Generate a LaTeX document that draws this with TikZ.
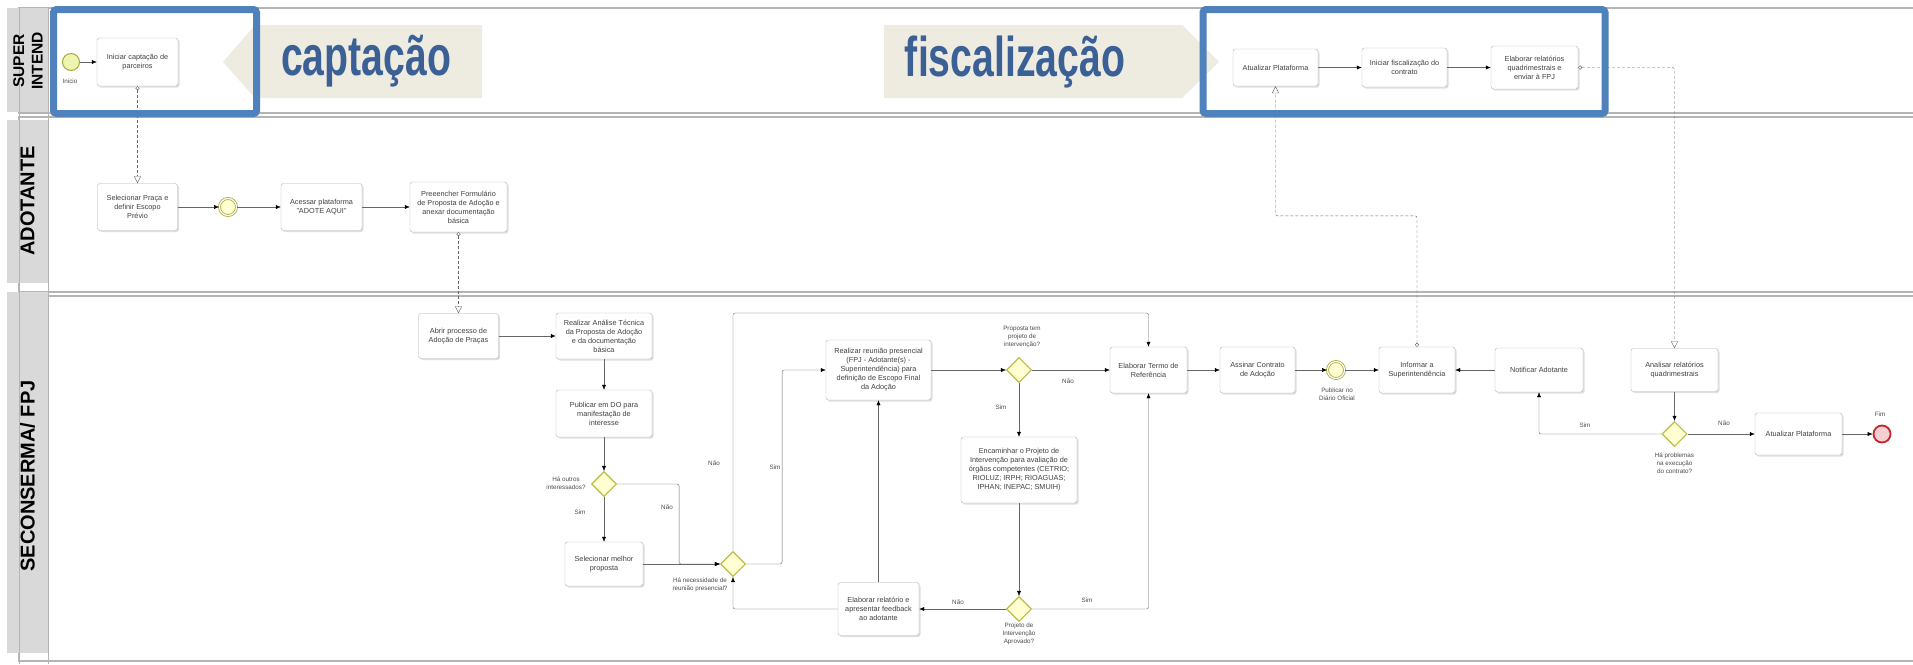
\documentclass[tikz,border=0pt]{standalone}
\usepackage{fontspec}
\setmainfont{Liberation Sans}
\newfontfamily\bannerfont[FakeStretch=0.7]{Liberation Sans}
\usetikzlibrary{arrows.meta,shapes.geometric,shadows,positioning}
\definecolor{lanegray}{HTML}{D9D9D9}
\definecolor{laneline}{HTML}{B4B4B4}
\definecolor{frameblue}{HTML}{4F81BD}
\definecolor{bannerbg}{HTML}{EEEBE0}
\definecolor{bannertext}{HTML}{3A6096}
\definecolor{gatefill}{HTML}{FFFFD2}
\definecolor{gateline}{HTML}{BCBC48}
\definecolor{startfill}{HTML}{EEF5B0}
\definecolor{eventline}{HTML}{A8A838}
\definecolor{endfill}{HTML}{F7CFD2}
\definecolor{endline}{HTML}{C0262D}
\def\taskfont{\fontsize{7.3}{9}\selectfont}
\def\notefont{\fontsize{6.3}{8}\selectfont}

\begin{document}
\begin{tikzpicture}[x=1pt,y=-1pt,>={Latex[length=5pt,width=4pt,color=black]}]
    \tikzstyle{task}=[rectangle,rounded corners=2.5pt,draw=black!30,fill=white,
        drop shadow={shadow xshift=1.5pt,shadow yshift=-1.5pt,opacity=.25},
        align=center,text=black!75,font=\taskfont,inner sep=1pt]
    \tikzstyle{gate}=[diamond,draw=gateline,fill=gatefill,line width=1.1pt,minimum size=25pt,inner sep=0pt]
    \tikzstyle{event}=[circle,draw=eventline,fill=startfill,line width=1pt,minimum size=17pt,inner sep=0pt]
    \tikzstyle{mid event}=[event,line width=.8pt,double=white,double distance=1.2pt,fill=gatefill]
    \tikzstyle{end event}=[event,draw=endline,fill=endfill,line width=1.8pt]
    \tikzstyle{note}=[align=center,text=black!70,font=\notefont,inner sep=0pt]
    \tikzstyle{lane}=[font=\bfseries\fontsize{20}{22}\selectfont,rotate=90]
    \tikzstyle{banner}=[anchor=base,text=bannertext,font=\bannerfont\bfseries\fontsize{56}{56}\selectfont]
    \tikzstyle{flow}=[draw=black!60,rounded corners=2pt,->]
    \tikzstyle{msg}=[draw=black!60,dash pattern=on 3pt off 2pt,rounded corners=2pt,
        {Circle[open,length=4pt,width=4pt,fill=white]}-{Triangle[open,length=7pt,width=7pt,fill=white]}]

    \useasboundingbox (0,0) rectangle (1913,664);
    \fill[white] (0,0) rectangle (1913,664);

    % Lanes
    \foreach \ya/\yb in {8/113,117/292,296/661}
        \draw[laneline,line width=1.5pt] (19,\ya) rectangle (1925,\yb);
    \foreach \ya/\yb in {8/112,120/283,292/653}
        \fill[lanegray] (7,\ya) rectangle (48,\yb);
    \foreach \x in {19,48}
        \draw[laneline,line width=.8pt] (\x,8) -- (\x,664);

    \node[lane,font=\bfseries\fontsize{15.5}{18.5}\selectfont,align=center] (L-1) at (28,61) {SUPER\\INTEND};
    \node[lane] (L-2) at (27.5,201) {ADOTANTE};
    \node[lane] (L-3) at (27.5,476) {SECONSERMA/ FPJ};

    % Phase banners
    \fill[bannerbg] (223,62) -- (255,25) -- (482,25) -- (482,98) -- (255,98) -- cycle;
    \fill[bannerbg] (884,25) -- (1182,25) -- (1219,62) -- (1182,98) -- (884,98) -- cycle;
    \node[banner] (B-1) at (366,75) {captação};
    \node[banner] (B-2) at (1015,76) {fiscalização};

    % Super intendencia
    \node[event] (S-0) at (71,62) {};
    \node[task,minimum width=81pt,minimum height=48pt] (S-1) at (137.5,62) {Iniciar captação de\\parceiros};
    \node[task,minimum width=85pt,minimum height=37pt] (S-2) at (1275.5,67.5) {Atualizar Plataforma};
    \node[task,minimum width=85pt,minimum height=39pt] (S-3) at (1404.5,67.5) {Iniciar fiscalização do\\contrato};
    \node[task,minimum width=87pt,minimum height=43pt] (S-4) at (1534.5,67.5) {Elaborar relatórios\\quadrimestrais e\\enviar à FPJ};

    % Adotante
    \node[task,minimum width=80pt,minimum height=47pt] (A-1) at (137.5,207) {Selecionar Praça e\\definir Escopo\\Prévio};
    \node[mid event] (A-2) at (228,207) {};
    \node[task,minimum width=81pt,minimum height=47pt] (A-3) at (321.5,207) {Acessar plataforma\\"ADOTE AQUI"};
    \node[task,minimum width=97pt,minimum height=50pt] (A-4) at (458.5,207) {Preeencher Formulário\\de Proposta de Adoção e\\anexar documentação\\básica};

    % Seconserma / FPJ
    \node[task,minimum width=80pt,minimum height=45pt] (F-1) at (458.5,336) {Abrir processo de\\Adoção de Praças};
    \node[task,minimum width=96pt,minimum height=46pt] (F-2) at (604,336) {Realizar Análise Técnica\\da Proposta de Adoção\\e da documentação\\básica};
    \node[task,minimum width=96pt,minimum height=47pt] (F-3) at (604,413.5) {Publicar em DO para\\manifestação de\\interesse};
    \node[gate] (G-1) at (604,484) {};
    \node[task,minimum width=78pt,minimum height=44pt] (F-4) at (604,564) {Selecionar melhor\\proposta};
    \node[gate] (G-2) at (733,564) {};
    \node[task,minimum width=105pt,minimum height=60pt] (F-5) at (878.5,370) {Realizar reunião presencial\\(FPJ - Adotante(s) -\\Superintendência) para\\definição de Escopo Final\\da Adoção};
    \node[gate] (G-3) at (1019,370) {};
    \node[task,minimum width=116pt,minimum height=66pt] (F-6) at (1019,470) {Encaminhar o Projeto de\\Intervenção para avaliação de\\órgãos competentes (CETRIO;\\RIOLUZ; IRPH; RIOAGUAS;\\IPHAN; INEPAC; SMUIH)};
    \node[gate] (G-4) at (1019,609) {};
    \node[task,minimum width=81pt,minimum height=53pt] (F-7) at (878.5,609) {Elaborar relatório e\\apresentar feedback\\ao adotante};
    \node[task,minimum width=77pt,minimum height=46pt] (F-8) at (1148.5,370) {Elaborar Termo de\\Referência};
    \node[task,minimum width=75pt,minimum height=46pt] (F-9) at (1257.5,370) {Assinar Contrato\\de Adoção};
    \node[mid event] (E-1) at (1336,370) {};
    \node[task,minimum width=76pt,minimum height=46pt] (F-10) at (1417,370) {Informar a\\Superintendência};
    \node[task,minimum width=88pt,minimum height=44pt] (F-11) at (1539,370) {Notificar Adotante};
    \node[task,minimum width=87pt,minimum height=43pt] (F-12) at (1674.5,370) {Analisar relatórios\\quadrimestrais};
    \node[gate] (G-5) at (1674.5,434) {};
    \node[task,minimum width=87pt,minimum height=42pt] (F-13) at (1798.5,434) {Atualizar Plataforma};
    \node[end event] (E-2) at (1882,434) {};

    % Annotate events and gateways
    \node[note] (N-0) at (70,81) {Inicio};
    \node[note] (N-1) at (566,483) {Há outros\\interessados?};
    \node[note] (N-2) at (700,585) {Há necessidade de\\reunião presencial?};
    \node[note] (N-3) at (1022,337) {Proposta tem\\projeto de\\intervenção?};
    \node[note] (N-4) at (1019,634) {Projeto de\\Intervenção\\Aprovado?};
    \node[note] (N-5) at (1337,394) {Publicar no\\Diário Oficial};
    \node[note] (N-6) at (1674.5,463) {Há problemas\\na execução\\do contrato?};
    \node[note] (N-7) at (1880,414) {Fim};
    \foreach \x/\y/\t [count=\i] in {580/512/Sim,667/507/Não,714/463/Não,775/467/Sim,1068/381/Não,
            1001/407/Sim,958/602/Não,1087/600/Sim,1585/425/Sim,1724/423/Não}
        \node[note] (C-\i) at (\x,\y) {\t};

    % Sequence flows
    \foreach \a/\b in {S-0/S-1,S-2/S-3,S-3/S-4,A-1/A-2,A-2/A-3,A-3/A-4,F-1/F-2,F-2/F-3,F-3/G-1,
            G-1/F-4,F-4/G-2,F-5/G-3,G-3/F-8,G-3/F-6,F-6/G-4,G-4/F-7,F-7/F-5,F-8/F-9,F-9/E-1,
            E-1/F-10,F-11/F-10,F-12/G-5,G-5/F-13,F-13/E-2}
        \draw[flow] (\a) -- (\b);
    \draw[flow] (G-1.east) -- ++(62,0) |- (G-2.west);
    \draw[flow] (G-2.north) -- ++(0,-238) -| (F-8.north);
    \draw[flow] (G-2.east) -- ++(36,0) |- (F-5.west);
    \draw[flow] (G-4.east) -| (F-8.south);
    \draw[flow] (F-7.west) -| (G-2.south);
    \draw[flow] (G-5.west) -| (F-11.south);

    % Message flows
    \draw[msg] (S-1.south) -- (A-1.north);
    \draw[msg] (A-4.south) -- (F-1.north);
    \draw[msg] (F-10.north) -- ++(0,-131) -| (S-2.south);
    \draw[msg] (S-4.east) -| (F-12.north);

    % Phase frames
    \draw[frameblue,line width=7pt,rounded corners=3pt] (53.5,9.5) rectangle (256.5,113.5);
    \draw[frameblue,line width=7pt,rounded corners=3pt] (1203,9.5) rectangle (1605,113.5);
\end{tikzpicture}
\end{document}
